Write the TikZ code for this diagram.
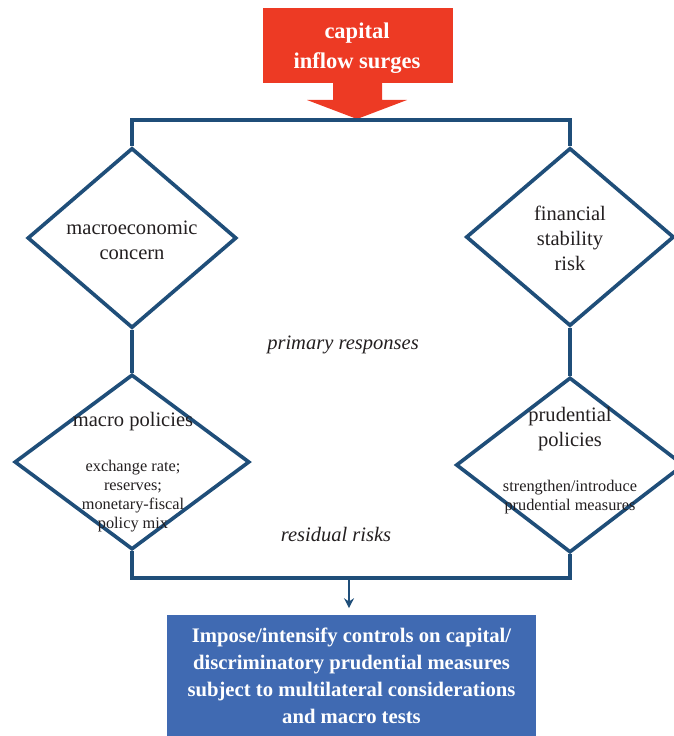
\documentclass[tikz,border=0pt]{standalone}
\usepackage{fontspec}
\setmainfont{Liberation Serif}
\usetikzlibrary{arrows.meta,shapes.geometric}

\definecolor{flowblue}{RGB}{31,78,121}
\definecolor{surgered}{RGB}{237,58,36}
\definecolor{boxblue}{RGB}{64,106,178}
\definecolor{txtgray}{RGB}{35,31,32}

\begin{document}
\begin{tikzpicture}[x=0.025cm,y=-0.025cm,
  dia/.style={draw=flowblue,line width=2.6pt,diamond,inner sep=0pt},
  big/.style={font=\fontsize{14.6}{17.7}\selectfont,text=txtgray,align=center},
  small/.style={font=\fontsize{11.6}{13.7}\selectfont,text=txtgray,align=center},
  link/.style={draw=flowblue,line width=2.6pt}]

\useasboundingbox (0,0) rectangle (674,736);

% Trigger
\node[fill=surgered,minimum width=4.75cm,minimum height=1.875cm] (surge) at (358,45.5) {};
\node[text=white,font=\bfseries\fontsize{16}{21}\selectfont,align=center] (tsurge) at (357,48)
  {capital\\inflow surges};
\fill[surgered] (333,82) -- (333,100) -- (307,100) -- (357,119)
  -- (407,100) -- (382,100) -- (382,82) -- cycle;
\coordinate (top) at (357,120);

% Concerns
\node[dia,minimum width=5.225cm,minimum height=4.5cm] (dconcern) at (132,238) {};
\node[big] (tconcern) at (132,240) {macroeconomic\\concern};
\node[dia,minimum width=5.2cm,minimum height=4.45cm] (drisk) at (570,237) {};
\node[big] (trisk) at (570,238) {financial\\stability\\risk};

% Policies
\node[dia,minimum width=5.875cm,minimum height=4.375cm] (dmacro) at (132,462) {};
\node[big] (tmacro) at (133,422) {macro policies};
\node[small] (smacro) at (133,496) {exchange rate;\\reserves;\\monetary-fiscal\\policy mix};
\node[dia,minimum width=5.7cm,minimum height=4.375cm] (dprud) at (570,465) {};
\node[big] (tprud) at (570,429) {prudential\\policies};
\node[small] (sprud) at (570,497) {strengthen/introduce\\prudential measures};

% Labels
\node[big,font=\itshape\fontsize{14.6}{17.7}\selectfont] (lprimary) at (343,345) {primary responses};
\node[big,font=\itshape\fontsize{14.6}{17.7}\selectfont] (lresidual) at (336,534) {residual risks};

% Last resort
\node[fill=boxblue,minimum width=9.225cm,minimum height=3.025cm,text=white,
  font=\bfseries\fontsize{14.7}{19.2}\selectfont,align=center] (action) at (351.5,676)
  {Impose/intensify controls on capital/\\discriminatory prudential measures\\
   subject to multilateral considerations\\and macro tests};
\coordinate (bot) at (349,578);

% Connectors
\draw[link] (dconcern.north) |- (top) -| (drisk.north);
\draw[link] (dconcern.south) -- (dmacro.north);
\draw[link] (drisk.south) -- (dprud.north);
\draw[link] (dmacro.south) |- (bot) -| (dprud.south);
\draw[link,line width=1.8pt,-{Stealth[length=7pt,width=7pt]},shorten >=5pt]
  (bot) -- (bot |- action.north);

\end{tikzpicture}
\end{document}
